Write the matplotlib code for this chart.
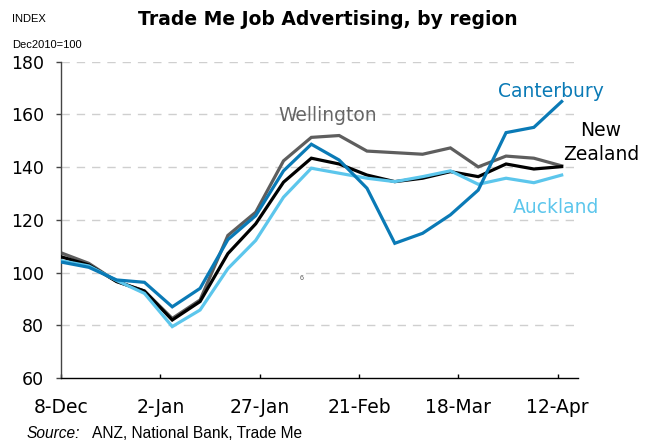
import matplotlib
matplotlib.use("Agg")
import matplotlib.pyplot as plt
import pandas as pd

dates = ['2010-12-08', '2010-12-15', '2010-12-22', '2010-12-29', '2011-01-05',
         '2011-01-12', '2011-01-19', '2011-01-26', '2011-02-02', '2011-02-09',
         '2011-02-16', '2011-02-23', '2011-03-02', '2011-03-09', '2011-03-16',
         '2011-03-23', '2011-03-30', '2011-04-06', '2011-04-13']
canterbury = [104, 102, 97.2, 96.3, 87, 94, 112.5, 121.6, 138.6, 148.7, 142.7,
              132, 111.1, 114.9, 121.9, 131.3, 153.1, 155.1, 164.9]
wellington = [107.5, 103.5, 96.6, 93, 82.6, 89.6, 114.1, 122.9, 142.4, 151.3, 152,
              146.1, 145.5, 144.9, 147.3, 140.1, 144.2, 143.4, 140.5]
new_zealand = [106, 102.9, 96.6, 93, 82, 89, 107.2, 118.5, 134.3, 143.4, 141.2,
               137, 134.5, 135.8, 138.3, 136.4, 141.2, 139.3, 140.2]
auckland = [104.5, 102.5, 97, 92.1, 79.5, 85.8, 101.5, 112.2, 128.6, 139.6, 137.7,
            135.8, 134.5, 136.4, 138.6, 133.5, 135.8, 134.1, 137]

tick_dates = ['2010-12-08', '2011-01-02', '2011-01-27', '2011-02-21', '2011-03-18', '2011-04-12']
tick_labels = ['8-Dec', '2-Jan', '27-Jan', '21-Feb', '18-Mar', '12-Apr']
y_ticks = [60, 80, 100, 120, 140, 160, 180]

x = pd.to_datetime(dates)
xt = pd.to_datetime(tick_dates)

plt.rcParams['font.family'] = ['Liberation Sans', 'DejaVu Sans']

fig = plt.figure(figsize=(6.53, 4.41), dpi=100)
ax = fig.add_axes([0.0934, 0.1429, 0.7917, 0.7171])

c_cant = '#0A7AB6'
c_auck = '#5CC6EC'
c_well = '#5E5E5E'
c_nz = '#000000'
lw = 2.3

for v in y_ticks[1:]:
    ax.axhline(v, color='#CFCFCF', lw=1.0, dashes=(6, 5), zorder=0)

ax.plot(x, wellington, color=c_well, lw=lw, zorder=2, solid_joinstyle='miter')
ax.plot(x, new_zealand, color=c_nz, lw=lw, zorder=3, solid_joinstyle='miter')
ax.plot(x, auckland, color=c_auck, lw=lw, zorder=4, solid_joinstyle='miter')
ax.plot(x, canterbury, color=c_cant, lw=lw, zorder=5, solid_joinstyle='miter')

ax.set_xlim(pd.Timestamp('2010-12-08'), pd.Timestamp('2010-12-08') + pd.Timedelta(days=130.1))
ax.set_ylim(60, 180)
ax.set_yticks(y_ticks)
ax.set_xticks(xt)
ax.set_xticklabels(tick_labels, family='DejaVu Sans')
for lab in ax.get_yticklabels():
    lab.set_family('DejaVu Sans')

for s in ['top', 'right']:
    ax.spines[s].set_visible(False)
ax.spines['left'].set_color('#444444')
ax.spines['left'].set_linewidth(1.0)
ax.spines['bottom'].set_color('#000000')
ax.spines['bottom'].set_linewidth(1.0)

ax.tick_params(axis='y', direction='out', length=3.5, width=1, color='#444444',
               labelsize=12.5, pad=8.5)
ax.tick_params(axis='x', direction='in', length=3, width=1, labelsize=13.5,
               pad=14.5)

fig.text(0.5015, 0.955, 'Trade Me Job Advertising, by region', ha='center', va='center',
         fontsize=13.5, fontweight='bold', family='DejaVu Sans')
fig.text(0.018, 0.957, 'INDEX', ha='left', va='center', fontsize=8)
fig.text(0.018, 0.897, 'Dec2010=100', ha='left', va='center', fontsize=8)

fig.text(0.041, 0.018, 'Source:', ha='left', va='center', fontsize=11.2, style='italic')
fig.text(0.1404, 0.018, 'ANZ, National Bank, Trade Me', ha='left', va='center', fontsize=11.2)

lab_kw = dict(va='baseline', fontsize=13.5, family='DejaVu Sans')
fig.text(0.7626, 0.7807, 'Canterbury', color=c_cant, ha='left', **lab_kw)
fig.text(0.4257, 0.7263, 'Wellington', color='#666666', ha='left', **lab_kw)
fig.text(0.9204, 0.6923, 'New', color='black', ha='center', **lab_kw)
fig.text(0.9204, 0.6372, 'Zealand', color='black', ha='center', **lab_kw)
fig.text(0.7851, 0.5177, 'Auckland', color=c_auck, ha='left', **lab_kw)
fig.text(0.462, 0.369, '6', color='#555555', ha='center', va='center', fontsize=5)

fig.savefig('out.png', dpi=100)
